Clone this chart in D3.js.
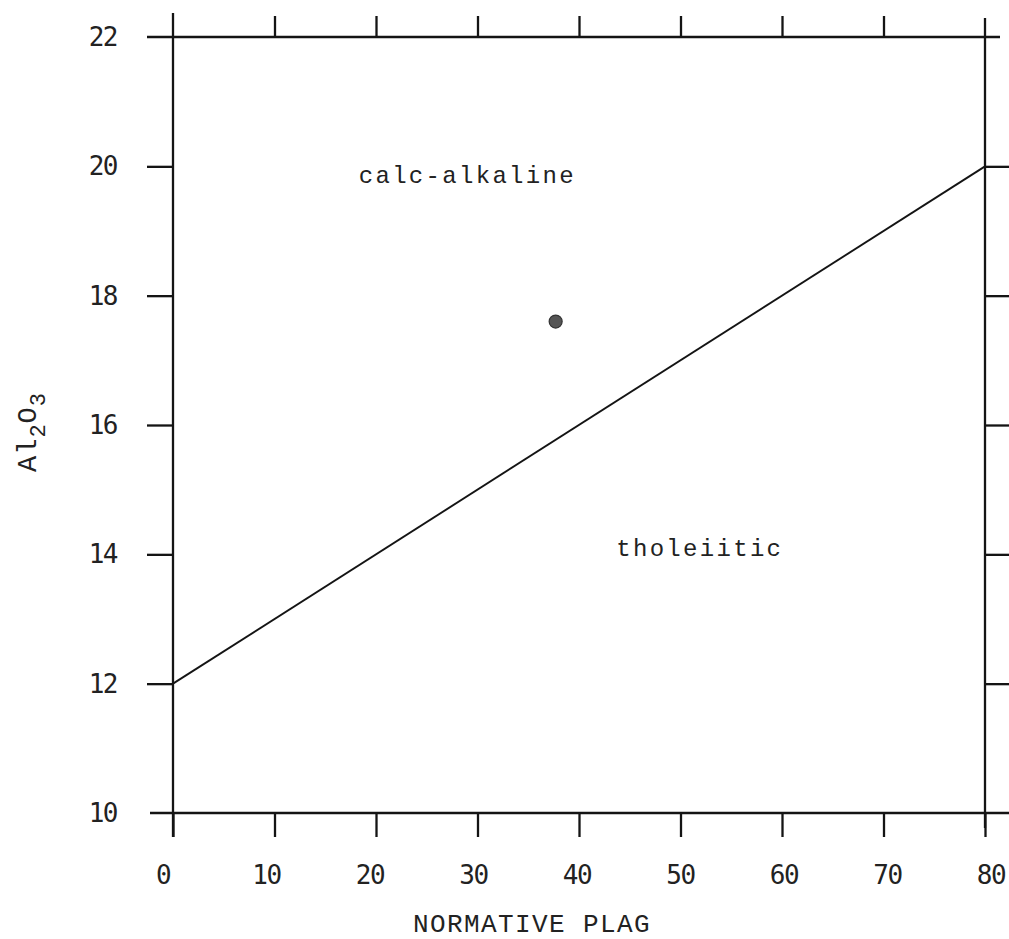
<!DOCTYPE html>
<html>
<head>
<meta charset="utf-8">
<script src="https://cdn.jsdelivr.net/npm/d3@7"></script>
<style>
  html, body { margin: 0; padding: 0; background: #fff; }
  svg { display: block; }
</style>
</head>
<body>
<svg id="chart" width="1009" height="939"></svg>
<script>
// ---- data ----
const xTicks = [0, 10, 20, 30, 40, 50, 60, 70, 80];
const yTicks = [10, 12, 14, 16, 18, 20, 22];
const innerYTicks = [12, 14, 16, 18, 20];
const innerXTicks = [10, 20, 30, 40, 50, 60, 70];
const boundaryX = [0, 80];
const boundaryY = [12, 20];
const sampleX = [37.7];
const sampleY = [17.6];
const regionNames = ["calc-alkaline", "tholeiitic"];
const regionX = [29.0, 51.9];
const regionY = [19.74, 13.97];
const xTitle = "NORMATIVE PLAG";

// ---- scales ----
const x = d3.scaleLinear().domain([0, 80]).range([173, 985]);
const y = d3.scaleLinear().domain([10, 22]).range([813, 37]);
const xLab = d3.scaleLinear().domain([0, 80]).range([163, 991]);

const svg = d3.select("#chart");
const ink = "#141414";
const numFont = "'DejaVu Sans Mono', monospace";
const typeFont = "'Liberation Mono', 'DejaVu Sans Mono', monospace";

// ---- frame ----
const frame = svg.append("g").attr("stroke", ink).attr("stroke-width", 2.3).attr("fill", "none");
frame.append("line").attr("x1", x(0)).attr("x2", x(0)).attr("y1", y(22) - 24).attr("y2", y(10) + 24);
frame.append("line").attr("x1", x(80)).attr("x2", x(80)).attr("y1", y(22) - 19).attr("y2", y(10) + 15);
frame.append("line").attr("x1", x(0) - 26).attr("x2", x(80) + 15).attr("y1", y(22)).attr("y2", y(22));
frame.append("line").attr("x1", x(0) - 23).attr("x2", 1009).attr("y1", y(10)).attr("y2", y(10));

// ---- ticks via axes ----
function styleAxis(g) {
  g.select(".domain").remove();
  g.selectAll(".tick line").attr("stroke", ink).attr("stroke-width", 2.3);
  g.selectAll(".tick text").remove();
}
svg.append("g").attr("transform", `translate(0,${y(10)})`)
  .call(d3.axisBottom(x).tickValues(xTicks).tickSize(24).tickFormat(""))
  .call(styleAxis);
svg.append("g").attr("transform", `translate(0,${y(22)})`)
  .call(d3.axisTop(x).tickValues(innerXTicks).tickSize(21).tickFormat(""))
  .call(styleAxis);
svg.append("g").attr("transform", `translate(${x(0)},0)`)
  .call(d3.axisLeft(y).tickValues(innerYTicks).tickSize(26).tickFormat(""))
  .call(styleAxis);
svg.append("g").attr("transform", `translate(${x(80)},0)`)
  .call(d3.axisRight(y).tickValues(innerYTicks).tickSize(24).tickFormat(""))
  .call(styleAxis);

// ---- tick labels ----
svg.append("g").selectAll("text").data(xTicks).join("text")
  .attr("x", d => xLab(d)).attr("y", 884)
  .attr("text-anchor", "middle")
  .attr("font-family", numFont).attr("font-size", 26).attr("letter-spacing", -1.5)
  .attr("fill", "#222")
  .text(d => d);
svg.append("g").selectAll("text").data(yTicks).join("text")
  .attr("x", 117).attr("y", d => y(d) + 9)
  .attr("text-anchor", "end")
  .attr("font-family", numFont).attr("font-size", 26).attr("letter-spacing", -1.5)
  .attr("fill", "#222")
  .text(d => d);

// ---- boundary line ----
svg.append("path")
  .datum(boundaryX.map((d, i) => [d, boundaryY[i]]))
  .attr("d", d3.line().x(d => x(d[0])).y(d => y(d[1])))
  .attr("stroke", ink).attr("stroke-width", 1.9).attr("fill", "none");

// ---- sample point ----
svg.append("g").selectAll("circle").data(sampleX.map((d, i) => [d, sampleY[i]])).join("circle")
  .attr("cx", d => x(d[0])).attr("cy", d => y(d[1])).attr("r", 6.5)
  .attr("fill", "#555").attr("stroke", "#333").attr("stroke-width", 1.2);

// ---- region labels ----
svg.append("g").selectAll("text").data(regionNames).join("text")
  .attr("x", (d, i) => x(regionX[i])).attr("y", (d, i) => y(regionY[i]))
  .attr("text-anchor", "middle")
  .attr("font-family", typeFont).attr("font-size", 24).attr("letter-spacing", 2.3)
  .attr("fill", "#222")
  .text(d => d);

// ---- axis titles ----
svg.append("text")
  .attr("x", 532).attr("y", 932)
  .attr("text-anchor", "middle")
  .attr("font-family", typeFont).attr("font-size", 26).attr("letter-spacing", 1.4)
  .attr("fill", "#222")
  .text(xTitle);

const yt = svg.append("text")
  .attr("transform", "translate(36,432) rotate(-90)")
  .attr("text-anchor", "middle")
  .attr("font-family", typeFont).attr("font-size", 27).attr("letter-spacing", 1)
  .attr("fill", "#222");
yt.append("tspan").text("Al");
yt.append("tspan").attr("dy", 9).attr("font-size", 22).text("2");
yt.append("tspan").attr("dy", -9).text("O");
yt.append("tspan").attr("dy", 9).attr("font-size", 22).text("3");
</script>
</body>
</html>
